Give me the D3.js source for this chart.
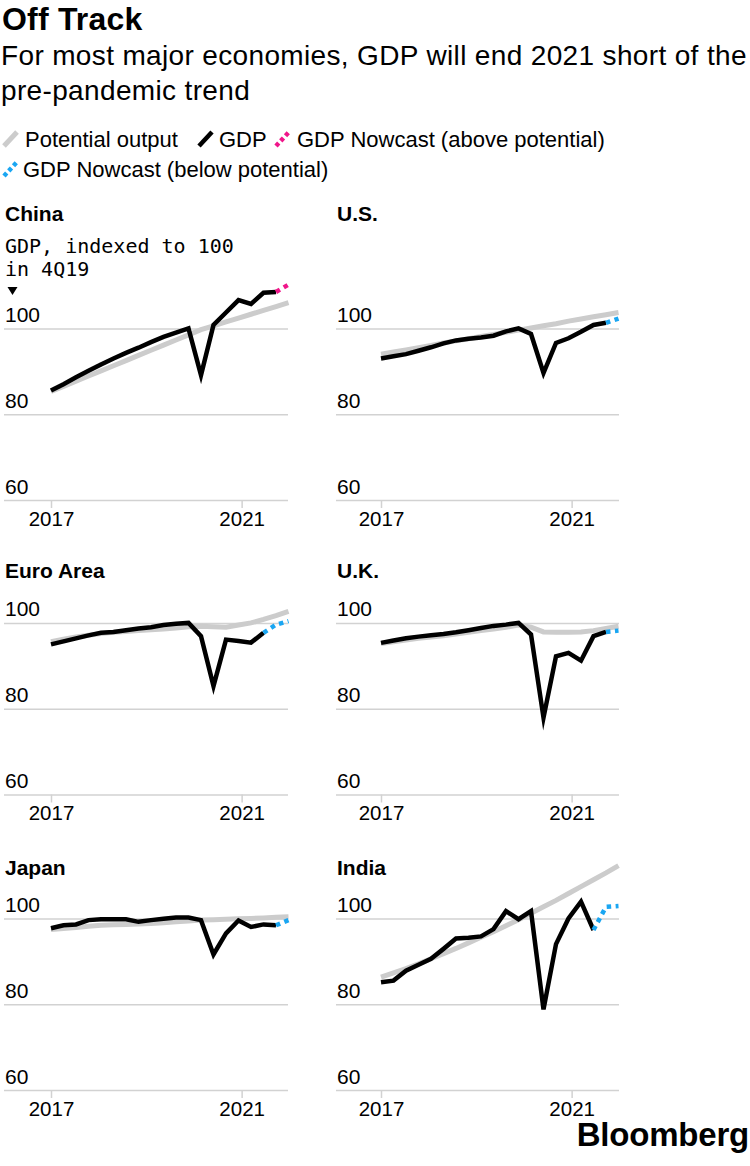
<!DOCTYPE html>
<html><head><meta charset="utf-8">
<script src="https://cdn.jsdelivr.net/npm/d3@7"></script>
<style>body{margin:0;background:#fff} svg{display:block}</style>
</head><body>
<svg id="c" width="750" height="1166"></svg>
<script>
// ---------- DATA ----------
const quarters = ["1Q17","2Q17","3Q17","4Q17","1Q18","2Q18","3Q18","4Q18","1Q19","2Q19","3Q19","4Q19",
                  "1Q20","2Q20","3Q20","4Q20","1Q21","2Q21","3Q21","4Q21"];
const countries = ["China","U.S.","Euro Area","U.K.","Japan","India"];
const xTickLabels = ["2017","2021"];
const xTickQuarterPos = [0, 15.25];   // position of the year labels, in quarter steps
const yTicks = [60, 80, 100];

const chinaPotential = [85.3,86.5,87.7,88.9,90.1,91.3,92.5,93.7,94.9,96.1,97.3,98.5,99.7,100.6,101.5,102.4,103.3,104.2,105.1,106.0];
const chinaGDP       = [85.5,87.0,88.6,90.1,91.6,93.0,94.3,95.5,96.8,98.0,99.0,100.0,89.1,100.8,103.7,106.6,105.7,108.3,108.5];
const chinaNowcast   = [null,null,null,null,null,null,null,null,null,null,null,null,null,null,null,null,null,null,108.5,110.2];

const usPotential = [94.0,94.5,95.0,95.5,96.0,96.6,97.1,97.6,98.1,98.6,99.1,99.6,100.1,100.6,101.1,101.7,102.2,102.7,103.2,103.7];
const usGDP       = [93.0,93.5,94.0,94.8,95.6,96.5,97.2,97.6,97.9,98.3,99.3,100.0,98.7,89.6,96.6,97.7,99.2,100.8,101.3];
const usNowcast   = [null,null,null,null,null,null,null,null,null,null,null,null,null,null,null,null,null,null,101.3,102.3];

const euroPotential = [95.6,96.2,96.7,97.1,97.5,97.8,98.0,98.2,98.4,98.6,98.8,99.1,99.2,99.1,99.0,99.5,100.0,100.8,101.7,102.7];
const euroGDP       = [95.0,95.7,96.4,97.1,97.7,97.9,98.3,98.7,99.0,99.5,99.8,100.0,96.9,85.3,96.1,95.8,95.4,97.7];
const euroNowcast   = [null,null,null,null,null,null,null,null,null,null,null,null,null,null,null,null,null,97.7,99.6,100.4];

const ukPotential = [95.2,95.6,96.0,96.4,96.7,97.0,97.4,97.8,98.2,98.6,99.0,99.5,99.0,97.9,97.8,97.8,97.9,98.2,98.7,99.2];
const ukGDP       = [95.35,95.9,96.4,96.8,97.1,97.4,97.8,98.3,98.8,99.3,99.6,100.0,97.3,77.9,92.2,93.0,91.2,96.9,97.9];
const ukNowcast   = [null,null,null,null,null,null,null,null,null,null,null,null,null,null,null,null,null,null,97.9,98.2];

const japanPotential = [97.4,97.65,97.9,98.15,98.4,98.5,98.6,98.7,98.8,99.0,99.2,99.4,99.6,99.7,99.8,99.9,100.0,100.1,100.25,100.4];
const japanGDP       = [97.7,98.4,98.6,99.6,99.8,99.8,99.8,99.2,99.6,99.9,100.2,100.2,99.6,91.6,96.5,99.5,98.0,98.6,98.4];
const japanNowcast   = [null,null,null,null,null,null,null,null,null,null,null,null,null,null,null,null,null,null,98.4,99.6];

const indiaPotential = [86.3,87.3,88.3,89.4,90.6,91.8,93.0,94.3,95.6,96.9,98.3,99.7,101.2,102.7,104.2,105.8,107.4,109.0,110.6,112.3];
const indiaGDP       = [85.1,85.5,87.8,89.2,90.6,92.9,95.3,95.5,95.8,97.5,101.7,99.8,101.7,78.8,94.0,100.0,103.9,97.3];
const indiaNowcast   = [null,null,null,null,null,null,null,null,null,null,null,null,null,null,null,null,null,97.3,102.7,102.9];

const potentialSeries = [chinaPotential, usPotential, euroPotential, ukPotential, japanPotential, indiaPotential];
const gdpSeries = [chinaGDP, usGDP, euroGDP, ukGDP, japanGDP, indiaGDP];
const nowcastSeries = [chinaNowcast, usNowcast, euroNowcast, ukNowcast, japanNowcast, indiaNowcast];
const nowcastAbove = [true, false, false, false, false, false];

const legendLabels = ["Potential output","GDP","GDP Nowcast (above potential)","GDP Nowcast (below potential)"];
const titleText = "Off Track";
const subtitleLines = ["For most major economies, GDP will end 2021 short of the","pre-pandemic trend"];
const noteLines = ["GDP, indexed to 100","in 4Q19"];

// ---------- STYLE / LAYOUT ----------
const FONT = "'Liberation Sans', Arial, Helvetica, sans-serif";
const MONO = "'DejaVu Sans Mono', 'Liberation Mono', monospace";
const C_POT = "#cccccc", C_GDP = "#000000", C_ABOVE = "#f0168a", C_BELOW = "#1aa6f2", C_GRID = "#d2d2d2";

const svg = d3.select("#c").attr("font-family", FONT);

svg.append("text").attr("x", 2).attr("y", 30).attr("font-size", 32).attr("font-weight", 700)
  .attr("letter-spacing", 0.2).text(titleText);
subtitleLines.forEach((t, i) => {
  svg.append("text").attr("x", 1).attr("y", 65 + i * 35).attr("font-size", 28)
    .attr("letter-spacing", 0.35).text(t);
});

// legend
function legendSwatch(x, y, color, width, dashed) {
  svg.append("line").attr("x1", x).attr("y1", y + 7).attr("x2", x + 13).attr("y2", y - 7)
    .attr("stroke", color).attr("stroke-width", width)
    .attr("stroke-dasharray", dashed ? "4,3" : null);
}
const legY1 = 139, legY2 = 169;
legendSwatch(4, legY1, C_POT, 5, false);
svg.append("text").attr("x", 25).attr("y", legY1 + 8).attr("font-size", 22).text(legendLabels[0]);
legendSwatch(199, legY1, C_GDP, 4.5, false);
svg.append("text").attr("x", 219).attr("y", legY1 + 8).attr("font-size", 22).text(legendLabels[1]);
legendSwatch(276, legY1, C_ABOVE, 4.5, true);
svg.append("text").attr("x", 297).attr("y", legY1 + 8).attr("font-size", 22).text(legendLabels[2]);
legendSwatch(4, legY2, C_BELOW, 4.5, true);
svg.append("text").attr("x", 23).attr("y", legY2 + 8).attr("font-size", 22).text(legendLabels[3]);

const cols = [
  { grid0: 4, grid1: 288, d0: 51, d1: 288.5, tx: 4 },
  { grid0: 336, grid1: 619, d0: 381, d1: 618.5, tx: 336 }
];
const rowY60 = [500, 794.5, 1090];
const rowTitleY = [221, 578, 875];
const pxPerUnit = 4.29;

countries.forEach((name, i) => {
  const c = cols[i % 2], r = Math.floor(i / 2);
  const x = d3.scaleLinear().domain([0, quarters.length - 1]).range([c.d0, c.d1]);
  const y = d3.scaleLinear().domain([60, 100]).range([rowY60[r], rowY60[r] - 40 * pxPerUnit]);
  const g = svg.append("g");

  g.append("text").attr("x", c.tx + 1).attr("y", rowTitleY[r]).attr("font-size", 21)
    .attr("font-weight", 700).text(name);

  // horizontal gridlines + y labels
  g.append("g").attr("transform", `translate(${c.grid0},0)`)
    .call(d3.axisRight(y).tickValues(yTicks).tickSize(c.grid1 - c.grid0).tickFormat(d3.format("d")))
    .call(s => {
      s.select(".domain").remove();
      s.selectAll(".tick line").attr("stroke", C_GRID).attr("stroke-width", 1.5);
      s.selectAll(".tick text").attr("x", 1).attr("y", -7).attr("dy", 0)
        .attr("text-anchor", "start").attr("font-size", 21).attr("font-family", FONT).attr("fill", "#000");
    });

  // x axis
  g.append("g").attr("transform", `translate(0,${rowY60[r]})`)
    .call(d3.axisBottom(x).tickValues(xTickQuarterPos).tickSize(8).tickFormat((d, k) => xTickLabels[k]))
    .call(s => {
      s.select(".domain").remove();
      s.selectAll(".tick line").attr("stroke", C_GRID).attr("stroke-width", 1.5);
      s.selectAll(".tick text").attr("font-size", 20.5).attr("font-family", FONT).attr("fill", "#000");
    });

  const line = d3.line().defined(d => d != null).x((d, k) => x(k)).y(d => y(d));

  g.append("path").attr("d", line(potentialSeries[i])).attr("fill", "none")
    .attr("stroke", C_POT).attr("stroke-width", 5);
  g.append("path").attr("d", line(gdpSeries[i])).attr("fill", "none")
    .attr("stroke", C_GDP).attr("stroke-width", 4.5).attr("stroke-linejoin", "miter").attr("stroke-miterlimit", 6);
  g.append("path").attr("d", line(nowcastSeries[i])).attr("fill", "none")
    .attr("stroke", nowcastAbove[i] ? C_ABOVE : C_BELOW).attr("stroke-width", 4.5)
    .attr("stroke-dasharray", "4.5,4.5");

  if (i === 0) {
    noteLines.forEach((t, k) => {
      g.append("text").attr("x", 5).attr("y", 253 + k * 23).attr("font-size", 20)
        .attr("font-family", MONO).text(t);
    });
    g.append("path").attr("d", "M7.5,287L17.5,287L12.5,295Z").attr("fill", "#000");
  }
});

svg.append("text").attr("x", 749).attr("y", 1146).attr("text-anchor", "end")
  .attr("font-size", 33).attr("font-weight", 700).attr("letter-spacing", -0.2).text("Bloomberg");
</script>
</body></html>
